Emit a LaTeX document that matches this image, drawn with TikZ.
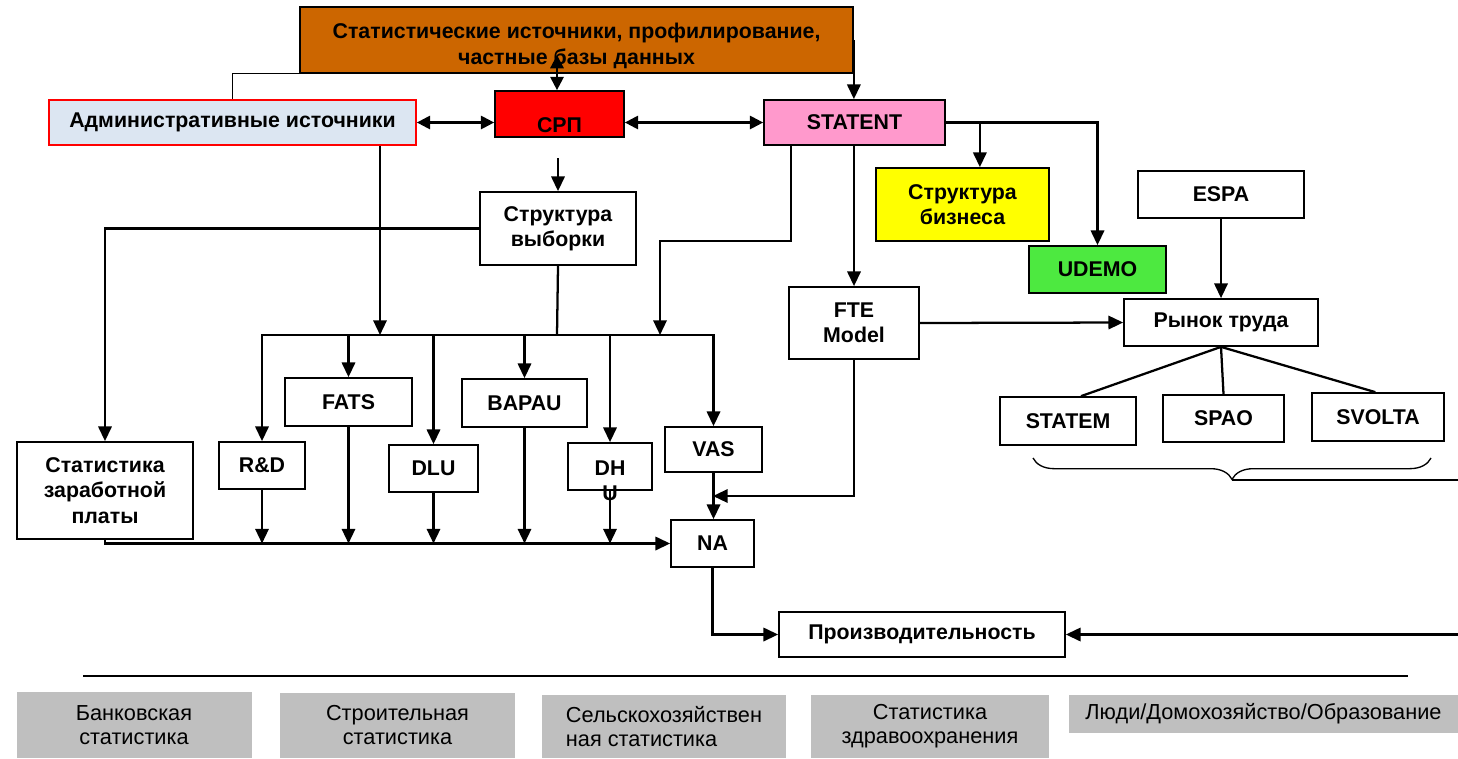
\documentclass[tikz,border=0pt]{standalone}
\usepackage{fontspec}
\setmainfont{Liberation Sans}
\usepackage{tikz}
\usetikzlibrary{arrows.meta,calc,decorations.pathreplacing}

\definecolor{srcbrown}{RGB}{204,102,0}
\definecolor{admblue}{RGB}{220,230,242}
\definecolor{srpred}{RGB}{255,0,0}
\definecolor{statpink}{RGB}{255,153,204}
\definecolor{bizyellow}{RGB}{255,255,0}
\definecolor{udemogreen}{RGB}{77,233,64}
\definecolor{boxgray}{RGB}{191,191,191}

\tikzset{
  boxsize/.style 2 args={minimum width=#1*0.75pt,minimum height=#2*0.75pt},
  box/.style={draw,line width=1.3pt,inner sep=0pt,align=center,
    font=\fontsize{16}{19}\selectfont\bfseries},
  graybox/.style={fill=boxgray,inner sep=0pt,align=center,
    font=\fontsize{16.3}{18}\selectfont},
  line/.style={line width=1.7pt},
  arr/.style={line width=1.7pt,-{Triangle[length=11pt,width=10pt]}},
  dbl/.style={line width=1.7pt,{Triangle[length=10pt,width=10pt]}-{Triangle[length=10pt,width=10pt]}},
  thinline/.style={line width=0.9pt}
}

\begin{document}
\begin{tikzpicture}[x=0.75pt,y=0.75pt,yscale=-1,xscale=1]
  \useasboundingbox (0,0) rectangle (1458,758);

  % Top row
  \node[box,boxsize={553}{66},fill=srcbrown,text height=36pt,text depth=0pt] (src) at (576.5,40) {\begin{tabular}[b]{@{}c@{}}Статистические источники, профилирование,\\частные базы данных\end{tabular}};
  \node[box,boxsize={367}{45},fill=admblue,draw=red] (adm) at (232.5,122.5) {Административные источники};
  \node[box,boxsize={129}{46},fill=srpred,text height=27pt,text depth=0pt] (srp) at (559.5,114) {СРП};
  \node[box,boxsize={181}{45},fill=statpink] (statent) at (854.5,122.5) {STATENT};

  % STATENT branch
  \node[box,boxsize={173}{73},fill=bizyellow] (biz) at (962.5,204.5) {Структура\\бизнеса};
  \node[box,boxsize={137}{47},fill=udemogreen] (udemo) at (1097.5,269.5) {UDEMO};
  \node[box,boxsize={166}{47}] (espa) at (1221,194.5) {ESPA};
  \node[box,boxsize={194}{47}] (labour) at (1221,322.5) {Рынок труда};
  \node[box,boxsize={136}{48}] (statem) at (1068,421) {STATEM};
  \node[box,boxsize={121}{47}] (spao) at (1223.5,418.5) {SPAO};
  \node[box,boxsize={132}{48}] (svolta) at (1378,417) {SVOLTA};
  \node[box,boxsize={130}{72}] (fte) at (854,323) {FTE\\Model};

  % Sample branch
  \node[box,boxsize={156}{73}] (sample) at (558,228.5) {Структура\\выборки};
  \node[box,boxsize={176}{97}] (wage) at (105,490.5) {Статистика\\заработной\\платы};
  \node[box,boxsize={86}{47}] (rd) at (262,465.5) {R\&D};
  \node[box,boxsize={127}{48}] (fats) at (348.5,402) {FATS};
  \node[box,boxsize={89}{47}] (dlu) at (433.5,468.5) {DLU};
  \node[box,boxsize={125}{48}] (bapau) at (524.5,403) {BAPAU};
  \node[box,boxsize={84}{47},text depth=0pt] (dhu) at (610,466.5) {\begin{tabular}[t]{@{}c@{}}DH\\U\end{tabular}};
  \node[box,boxsize={97}{45}] (vas) at (713.5,449.5) {VAS};
  \node[box,boxsize={83}{47}] (na) at (712.5,543.5) {NA};
  \node[box,boxsize={286}{45}] (prod) at (922,634.5) {Производительность};

  \coordinate (srcin) at (557,55);
  \coordinate (bus) at (557,335);
  \coordinate (admdrop) at (380,335);
  \coordinate (statdrop) at (660,335);
  \coordinate (braceL) at (1033,458);
  \coordinate (braceR) at (1431,458);
  \coordinate (bracetip) at (1232,480);
  \coordinate (rimbrace) at (1458,480);
  \coordinate (rimprod) at (1458,634.5);

  % Connectors, top
  \draw[thinline] (adm.north) |- (src.south west);
  \draw[arr] (src.east) -- (src.east |- statent.north);
  \draw[dbl] (srcin |- srp.north) -- (srcin);
  \draw[dbl] (adm.east) -- (adm.east -| srp.west);
  \draw[dbl] (srp.east |- statent.west) -- (statent.west);
  \draw[arr] (statent.east) -| (udemo.north);
  \draw[arr] (statent.east) ++(34,0) coordinate (bizfork) -- (bizfork |- biz.north);
  \draw[arr] (statent.south -| fte.north) -- (fte.north);
  \draw[arr] (statent.south) ++(-63.5,0) -- ++(0,95) -| (statdrop);
  \draw[arr] (sample.north) ++(0,-33) -- (sample.north);
  \draw[arr] (admdrop |- adm.south) -- (admdrop);

  % Labour market
  \draw[arr] (espa.south) -- (labour.north);
  \draw[arr] (fte.east) -- (labour.west);
  \draw[line] (labour.south) -- ([xshift=9.75pt]statem.north);
  \draw[line] (labour.south) -- (spao.north);
  \draw[line] (labour.south) -- ([xshift=-2pt]svolta.north);
  \draw[line width=1pt,decorate,decoration={brace,mirror,amplitude=16pt}] (braceL) -- (braceR);
  \draw[line] (bracetip) -- (rimbrace);

  % Bus from sample
  \draw[arr] (sample.west) -| (wage.north);
  \draw[line] (sample.south) -- (bus);
  \draw[arr] (bus) -| (rd.north);
  \draw[arr] (bus) -| (vas.north);
  \foreach \n in {fats,dlu,bapau,dhu}
    \draw[arr] (bus -| \n.north) -- (\n.north);

  % Into NA
  \draw[arr] (wage.south) |- (na.west);
  \foreach \n in {rd,fats,dlu,bapau,dhu}
    \draw[arr] (\n.south) -- (\n.south |- na.west);
  \draw[arr] (vas.south) -- (vas.south |- na.north);
  \draw[arr] (fte.south) |- ($(vas.south)!0.5!(na.north)$);
  \draw[arr] (na.south) |- (prod.west);
  \draw[arr] (rimprod) -- (prod.east);

  % Separator and other statistics
  \draw[line width=1pt] (83,676) -- (1408,676);
  \node[graybox,boxsize={235}{66}] (bank) at (134,725) {Банковская\\статистика};
  \node[graybox,boxsize={235}{65}] (constr) at (397.5,725.5) {Строительная\\статистика};
  \node[graybox,boxsize={244}{63},align=left] (agri) at (664,726.5) {Сельскохозяйствен\\ная статистика};
  \node[graybox,boxsize={238}{63}] (health) at (930,726.5) {Статистика\\здравоохранения};
  \node[graybox,boxsize={389}{38}] (people) at (1263.5,714) {Люди/Домохозяйство/Образование};
\end{tikzpicture}
\end{document}
